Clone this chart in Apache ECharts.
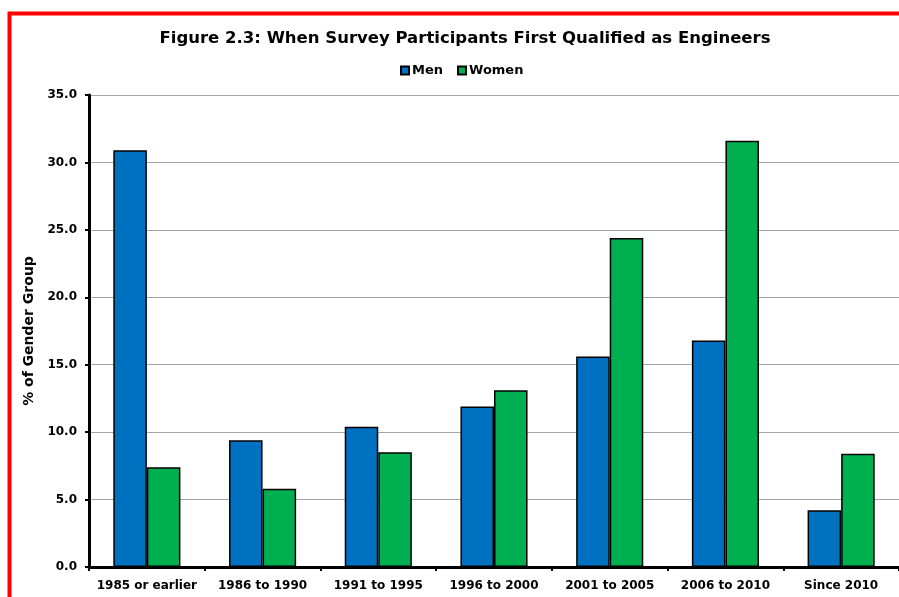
<!DOCTYPE html>
<html>
<head>
<meta charset="utf-8">
<script src="https://cdn.jsdelivr.net/npm/echarts@6/dist/echarts.min.js"></script>
<style>
  html, body { margin: 0; padding: 0; background: #fff; }
  #main { width: 899px; height: 597px; }
</style>
</head>
<body>
<div id="main"></div>
<script>
var myChart = echarts.init(document.getElementById("main"));

var categories = ['1985 or earlier', '1986 to 1990', '1991 to 1995', '1996 to 2000', '2001 to 2005', '2006 to 2010', 'Since 2010'];
var dataMen = [30.9, 9.4, 10.4, 11.9, 15.6, 16.8, 4.2];
var dataWomen = [7.4, 5.8, 8.5, 13.1, 24.4, 31.6, 8.4];

var fontFamily = '"DejaVu Sans", "Liberation Sans", Arial, sans-serif';

option = {
    backgroundColor: '#fff',
    textStyle: {
        fontFamily: fontFamily
    },
    title: {
        text: 'Figure 2.3: When Survey Participants First Qualified as Engineers',
        left: 460,
        textAlign: 'center',
        top: 25,
        textStyle: {
            fontFamily: fontFamily,
            fontSize: 16.5,
            fontWeight: 'bold',
            color: '#000'
        }
    },
    legend: {
        data: ['Men', 'Women'],
        left: 395,
        top: 59,
        itemWidth: 8,
        itemHeight: 8,
        itemGap: 14,
        icon: 'rect',
        textStyle: {
            fontFamily: fontFamily,
            fontSize: 13,
            fontWeight: 'bold',
            color: '#000',
            padding: [0, 0, 0, -2]
        }
    },
    graphic: [
        {
            type: 'rect',
            shape: { x: 9.5, y: 13.5, width: 1000, height: 1000 },
            style: { fill: 'none', stroke: '#ff0000', lineWidth: 4 },
            silent: true
        }
    ],
    grid: {
        left: 89,
        right: 0,
        top: 95,
        bottom: 30
    },
    xAxis: {
        type: 'category',
        data: categories,
        axisLine: {
            lineStyle: { color: '#000', width: 3 }
        },
        axisTick: {
            show: true,
            length: 4,
            lineStyle: { color: '#000', width: 2 }
        },
        axisLabel: {
            fontFamily: fontFamily,
            fontSize: 12,
            fontWeight: 'bold',
            color: '#000',
            margin: 13,
            interval: 0
        }
    },
    yAxis: {
        type: 'value',
        min: 0,
        max: 35,
        interval: 5,
        name: '% of Gender Group',
        nameLocation: 'middle',
        nameRotate: 90,
        nameGap: 46,
        nameTextStyle: {
            fontFamily: fontFamily,
            fontSize: 14,
            fontWeight: 'bold',
            color: '#000'
        },
        axisLine: {
            show: true,
            lineStyle: { color: '#000', width: 3 }
        },
        axisTick: {
            show: true,
            length: 4,
            lineStyle: { color: '#000', width: 2 }
        },
        splitLine: {
            show: true,
            lineStyle: { color: '#a6a6a6', width: 1 }
        },
        axisLabel: {
            fontFamily: fontFamily,
            fontSize: 12,
            fontWeight: 'bold',
            color: '#000',
            margin: 12,
            formatter: function (v) { return v.toFixed(1); }
        }
    },
    series: [
        {
            name: 'Men',
            type: 'bar',
            data: dataMen,
            barGap: '0%',
            barCategoryGap: '42%',
            itemStyle: {
                color: '#0070C0',
                borderColor: '#000',
                borderWidth: 1.5
            }
        },
        {
            name: 'Women',
            type: 'bar',
            data: dataWomen,
            itemStyle: {
                color: '#00B050',
                borderColor: '#000',
                borderWidth: 1.5
            }
        }
    ]
};
myChart.setOption(option);
</script>
</body>
</html>
